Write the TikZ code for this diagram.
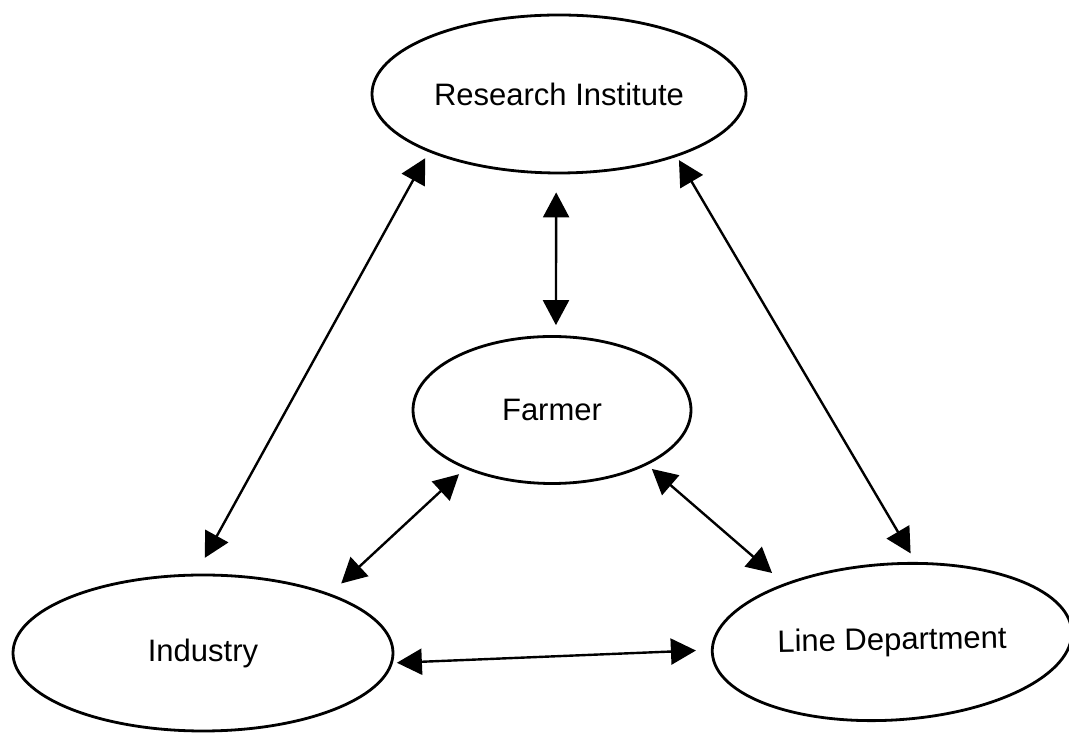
\documentclass[tikz,border=0pt]{standalone}
\usepackage{fontspec}
\setmainfont{Liberation Sans}
\usetikzlibrary{arrows.meta,shapes.geometric}

\begin{document}
\begin{tikzpicture}[x=1pt,y=1pt,
            font=\fontsize{31}{36}\selectfont,
            >={Triangle[length=25pt,width=26pt]},
            blob/.style={draw,ellipse,line width=2.8pt,inner sep=0pt},
            link/.style={<->,line width=2.4pt},
        ]
        \useasboundingbox (0,0) rectangle (1069,733);
        \node[blob,minimum width=374pt,minimum height=158pt] (ri) at (559,639) {Research Institute};
        \node[blob,minimum width=278pt,minimum height=147pt] (fa) at (552,323) {Farmer};
        \node[blob,minimum width=380pt,minimum height=156pt] (ind) at (203,80) {Industry};
        \node[blob,minimum width=360pt,minimum height=156pt,rotate=3.5] (ld) at (892,91) {\rotatebox{-2.5}{Line Department}};
        \draw[link,shorten <=7pt,shorten >=18pt] (ri.204) -- (ind.95);
        \draw[link,shorten <=18pt,shorten >=10pt] (ri.268) -- (fa.87);
        \draw[link,shorten <=4pt,shorten >=10pt] (ri.332) -- (ld.70);
        \draw[link,shorten <=8pt,shorten >=15pt] (fa.214) -- (ind.25);
        \draw[link,shorten <=6pt,shorten >=16pt] (fa.330) -- (ld.148);
        \draw[link,shorten <=4pt,shorten >=15pt] (ind.357) -- (ld.179);
        % \draw[link] (ind) -- (ld);
    \end{tikzpicture}
\end{document}
